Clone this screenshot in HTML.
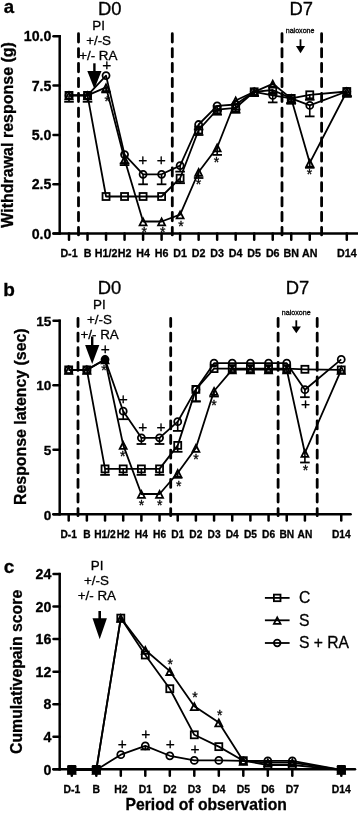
<!DOCTYPE html>
<html><head><meta charset="utf-8"><title>Figure</title>
<style>html,body{margin:0;padding:0;background:#fff}svg{display:block}text{stroke:#000;stroke-width:.3px}</style></head>
<body>
<svg width="358" height="813" viewBox="0 0 358 813" font-family='"Liberation Sans", sans-serif' fill="#000">
<rect width="358" height="813" fill="#fff"/>
<line x1="78.50" y1="33.70" x2="78.50" y2="234.90" stroke="#000" stroke-width="2.8" stroke-dasharray="8.3 6.6" stroke-linecap="round"/>
<line x1="172.30" y1="33.70" x2="172.30" y2="234.90" stroke="#000" stroke-width="2.8" stroke-dasharray="8.3 6.6" stroke-linecap="round"/>
<line x1="282.00" y1="33.70" x2="282.00" y2="234.90" stroke="#000" stroke-width="2.8" stroke-dasharray="8.3 6.6" stroke-linecap="round"/>
<line x1="321.60" y1="33.70" x2="321.60" y2="234.90" stroke="#000" stroke-width="2.8" stroke-dasharray="8.3 6.6" stroke-linecap="round"/>
<line x1="59.70" y1="35.00" x2="59.70" y2="234.65" stroke="#000" stroke-width="2.5" />
<line x1="53.50" y1="233.40" x2="358.50" y2="233.40" stroke="#000" stroke-width="2.5" stroke-linecap="round"/>
<line x1="53.50" y1="233.40" x2="59.70" y2="233.40" stroke="#000" stroke-width="2.5" stroke-linecap="round"/>
<text x="51.40" y="238.70" font-size="14.2" font-weight="bold" text-anchor="end" >0.0</text>
<line x1="53.50" y1="184.20" x2="59.70" y2="184.20" stroke="#000" stroke-width="2.5" stroke-linecap="round"/>
<text x="51.40" y="189.30" font-size="14.2" font-weight="bold" text-anchor="end" >2.5</text>
<line x1="53.50" y1="134.90" x2="59.70" y2="134.90" stroke="#000" stroke-width="2.5" stroke-linecap="round"/>
<text x="51.40" y="140.00" font-size="14.2" font-weight="bold" text-anchor="end" >5.0</text>
<line x1="53.50" y1="85.50" x2="59.70" y2="85.50" stroke="#000" stroke-width="2.5" stroke-linecap="round"/>
<text x="51.40" y="90.60" font-size="14.2" font-weight="bold" text-anchor="end" >7.5</text>
<line x1="53.50" y1="36.30" x2="59.70" y2="36.30" stroke="#000" stroke-width="2.5" stroke-linecap="round"/>
<text x="51.40" y="41.40" font-size="14.2" font-weight="bold" text-anchor="end" >10.0</text>
<line x1="69.00" y1="233.40" x2="69.00" y2="239.80" stroke="#000" stroke-width="2.5" stroke-linecap="round"/>
<text x="69.00" y="257.20" font-size="10.7" font-weight="bold" text-anchor="middle" >D-1</text>
<line x1="87.52" y1="233.40" x2="87.52" y2="239.80" stroke="#000" stroke-width="2.5" stroke-linecap="round"/>
<text x="87.52" y="257.20" font-size="10.7" font-weight="bold" text-anchor="middle" >B</text>
<line x1="106.04" y1="233.40" x2="106.04" y2="239.80" stroke="#000" stroke-width="2.5" stroke-linecap="round"/>
<text x="106.04" y="257.20" font-size="10.7" font-weight="bold" text-anchor="middle" >H1/2</text>
<line x1="124.56" y1="233.40" x2="124.56" y2="239.80" stroke="#000" stroke-width="2.5" stroke-linecap="round"/>
<text x="124.56" y="257.20" font-size="10.7" font-weight="bold" text-anchor="middle" >H2</text>
<line x1="143.08" y1="233.40" x2="143.08" y2="239.80" stroke="#000" stroke-width="2.5" stroke-linecap="round"/>
<text x="143.08" y="257.20" font-size="10.7" font-weight="bold" text-anchor="middle" >H4</text>
<line x1="161.60" y1="233.40" x2="161.60" y2="239.80" stroke="#000" stroke-width="2.5" stroke-linecap="round"/>
<text x="161.60" y="257.20" font-size="10.7" font-weight="bold" text-anchor="middle" >H6</text>
<line x1="180.12" y1="233.40" x2="180.12" y2="239.80" stroke="#000" stroke-width="2.5" stroke-linecap="round"/>
<text x="180.12" y="257.20" font-size="10.7" font-weight="bold" text-anchor="middle" >D1</text>
<line x1="198.64" y1="233.40" x2="198.64" y2="239.80" stroke="#000" stroke-width="2.5" stroke-linecap="round"/>
<text x="198.64" y="257.20" font-size="10.7" font-weight="bold" text-anchor="middle" >D2</text>
<line x1="217.16" y1="233.40" x2="217.16" y2="239.80" stroke="#000" stroke-width="2.5" stroke-linecap="round"/>
<text x="217.16" y="257.20" font-size="10.7" font-weight="bold" text-anchor="middle" >D3</text>
<line x1="235.68" y1="233.40" x2="235.68" y2="239.80" stroke="#000" stroke-width="2.5" stroke-linecap="round"/>
<text x="235.68" y="257.20" font-size="10.7" font-weight="bold" text-anchor="middle" >D4</text>
<line x1="254.20" y1="233.40" x2="254.20" y2="239.80" stroke="#000" stroke-width="2.5" stroke-linecap="round"/>
<text x="254.20" y="257.20" font-size="10.7" font-weight="bold" text-anchor="middle" >D5</text>
<line x1="272.72" y1="233.40" x2="272.72" y2="239.80" stroke="#000" stroke-width="2.5" stroke-linecap="round"/>
<text x="272.72" y="257.20" font-size="10.7" font-weight="bold" text-anchor="middle" >D6</text>
<line x1="291.24" y1="233.40" x2="291.24" y2="239.80" stroke="#000" stroke-width="2.5" stroke-linecap="round"/>
<text x="291.24" y="257.20" font-size="10.7" font-weight="bold" text-anchor="middle" >BN</text>
<line x1="309.76" y1="233.40" x2="309.76" y2="239.80" stroke="#000" stroke-width="2.5" stroke-linecap="round"/>
<text x="309.76" y="257.20" font-size="10.7" font-weight="bold" text-anchor="middle" >AN</text>
<line x1="346.80" y1="233.40" x2="346.80" y2="239.80" stroke="#000" stroke-width="2.5" stroke-linecap="round"/>
<text x="346.80" y="257.20" font-size="10.7" font-weight="bold" text-anchor="middle" >D14</text>
<path d="M69.00 95.40 L87.52 95.40 L106.04 196.50 L124.56 196.50 L143.08 196.50 L161.60 196.50 L180.12 178.20 L198.64 130.00 L217.16 109.70 L235.68 107.80 L254.20 91.80 L272.72 90.00 L291.24 98.40 L309.76 94.80 L346.80 91.50" fill="none" stroke="#000" stroke-width="1.8" stroke-linejoin="round"/>
<path d="M69.00 95.40 L87.52 95.40 L106.04 87.40 L124.56 159.30 L143.08 221.50 L161.60 221.50 L180.12 214.60 L198.64 172.00 L217.16 147.50 L235.68 100.50 L254.20 91.80 L272.72 83.80 L291.24 98.40 L309.76 162.80 L346.80 91.50" fill="none" stroke="#000" stroke-width="1.8" stroke-linejoin="round"/>
<path d="M69.00 95.40 L87.52 95.40 L106.04 75.60 L124.56 154.60 L143.08 174.30 L161.60 174.30 L180.12 165.60 L198.64 124.50 L217.16 105.80 L235.68 104.50 L254.20 91.80 L272.72 95.40 L291.24 98.40 L309.76 105.40 L346.80 91.50" fill="none" stroke="#000" stroke-width="1.8" stroke-linejoin="round"/>
<line x1="69.00" y1="95.40" x2="69.00" y2="101.80" stroke="#000" stroke-width="1.6" />
<line x1="64.20" y1="101.80" x2="73.80" y2="101.80" stroke="#000" stroke-width="1.8" />
<line x1="87.52" y1="95.40" x2="87.52" y2="101.80" stroke="#000" stroke-width="1.6" />
<line x1="82.72" y1="101.80" x2="92.32" y2="101.80" stroke="#000" stroke-width="1.8" />
<line x1="180.12" y1="178.20" x2="180.12" y2="183.20" stroke="#000" stroke-width="1.6" />
<line x1="175.32" y1="183.20" x2="184.92" y2="183.20" stroke="#000" stroke-width="1.8" />
<line x1="198.64" y1="130.00" x2="198.64" y2="135.00" stroke="#000" stroke-width="1.6" />
<line x1="193.84" y1="135.00" x2="203.44" y2="135.00" stroke="#000" stroke-width="1.8" />
<line x1="217.16" y1="109.70" x2="217.16" y2="114.70" stroke="#000" stroke-width="1.6" />
<line x1="212.36" y1="114.70" x2="221.96" y2="114.70" stroke="#000" stroke-width="1.8" />
<line x1="235.68" y1="107.80" x2="235.68" y2="112.80" stroke="#000" stroke-width="1.6" />
<line x1="230.88" y1="112.80" x2="240.48" y2="112.80" stroke="#000" stroke-width="1.8" />
<line x1="254.20" y1="91.80" x2="254.20" y2="95.80" stroke="#000" stroke-width="1.6" />
<line x1="249.40" y1="95.80" x2="259.00" y2="95.80" stroke="#000" stroke-width="1.8" />
<line x1="272.72" y1="90.00" x2="272.72" y2="94.00" stroke="#000" stroke-width="1.6" />
<line x1="267.92" y1="94.00" x2="277.52" y2="94.00" stroke="#000" stroke-width="1.8" />
<line x1="291.24" y1="98.40" x2="291.24" y2="103.40" stroke="#000" stroke-width="1.6" />
<line x1="286.44" y1="103.40" x2="296.04" y2="103.40" stroke="#000" stroke-width="1.8" />
<line x1="309.76" y1="94.80" x2="309.76" y2="99.80" stroke="#000" stroke-width="1.6" />
<line x1="304.96" y1="99.80" x2="314.56" y2="99.80" stroke="#000" stroke-width="1.8" />
<line x1="346.80" y1="91.50" x2="346.80" y2="96.50" stroke="#000" stroke-width="1.6" />
<line x1="342.00" y1="96.50" x2="351.60" y2="96.50" stroke="#000" stroke-width="1.8" />
<line x1="106.04" y1="87.40" x2="106.04" y2="92.40" stroke="#000" stroke-width="1.6" />
<line x1="101.24" y1="92.40" x2="110.84" y2="92.40" stroke="#000" stroke-width="1.8" />
<line x1="124.56" y1="159.30" x2="124.56" y2="165.10" stroke="#000" stroke-width="1.6" />
<line x1="119.76" y1="165.10" x2="129.36" y2="165.10" stroke="#000" stroke-width="1.8" />
<line x1="198.64" y1="172.00" x2="198.64" y2="178.00" stroke="#000" stroke-width="1.6" />
<line x1="193.84" y1="178.00" x2="203.44" y2="178.00" stroke="#000" stroke-width="1.8" />
<line x1="217.16" y1="147.50" x2="217.16" y2="154.90" stroke="#000" stroke-width="1.6" />
<line x1="212.36" y1="154.90" x2="221.96" y2="154.90" stroke="#000" stroke-width="1.8" />
<line x1="254.20" y1="91.80" x2="254.20" y2="95.80" stroke="#000" stroke-width="1.6" />
<line x1="249.40" y1="95.80" x2="259.00" y2="95.80" stroke="#000" stroke-width="1.8" />
<line x1="291.24" y1="98.40" x2="291.24" y2="103.40" stroke="#000" stroke-width="1.6" />
<line x1="286.44" y1="103.40" x2="296.04" y2="103.40" stroke="#000" stroke-width="1.8" />
<line x1="309.76" y1="162.80" x2="309.76" y2="167.80" stroke="#000" stroke-width="1.6" />
<line x1="304.96" y1="167.80" x2="314.56" y2="167.80" stroke="#000" stroke-width="1.8" />
<line x1="346.80" y1="91.50" x2="346.80" y2="96.50" stroke="#000" stroke-width="1.6" />
<line x1="342.00" y1="96.50" x2="351.60" y2="96.50" stroke="#000" stroke-width="1.8" />
<line x1="124.56" y1="154.60" x2="124.56" y2="163.40" stroke="#000" stroke-width="1.6" />
<line x1="119.76" y1="163.40" x2="129.36" y2="163.40" stroke="#000" stroke-width="1.8" />
<line x1="143.08" y1="174.30" x2="143.08" y2="184.30" stroke="#000" stroke-width="1.6" />
<line x1="138.28" y1="184.30" x2="147.88" y2="184.30" stroke="#000" stroke-width="1.8" />
<line x1="161.60" y1="174.30" x2="161.60" y2="184.30" stroke="#000" stroke-width="1.6" />
<line x1="156.80" y1="184.30" x2="166.40" y2="184.30" stroke="#000" stroke-width="1.8" />
<line x1="180.12" y1="165.60" x2="180.12" y2="171.60" stroke="#000" stroke-width="1.6" />
<line x1="175.32" y1="171.60" x2="184.92" y2="171.60" stroke="#000" stroke-width="1.8" />
<line x1="198.64" y1="124.50" x2="198.64" y2="129.50" stroke="#000" stroke-width="1.6" />
<line x1="193.84" y1="129.50" x2="203.44" y2="129.50" stroke="#000" stroke-width="1.8" />
<line x1="217.16" y1="105.80" x2="217.16" y2="110.80" stroke="#000" stroke-width="1.6" />
<line x1="212.36" y1="110.80" x2="221.96" y2="110.80" stroke="#000" stroke-width="1.8" />
<line x1="235.68" y1="104.50" x2="235.68" y2="109.50" stroke="#000" stroke-width="1.6" />
<line x1="230.88" y1="109.50" x2="240.48" y2="109.50" stroke="#000" stroke-width="1.8" />
<line x1="254.20" y1="91.80" x2="254.20" y2="95.80" stroke="#000" stroke-width="1.6" />
<line x1="249.40" y1="95.80" x2="259.00" y2="95.80" stroke="#000" stroke-width="1.8" />
<line x1="272.72" y1="95.40" x2="272.72" y2="102.40" stroke="#000" stroke-width="1.6" />
<line x1="267.92" y1="102.40" x2="277.52" y2="102.40" stroke="#000" stroke-width="1.8" />
<line x1="291.24" y1="98.40" x2="291.24" y2="103.40" stroke="#000" stroke-width="1.6" />
<line x1="286.44" y1="103.40" x2="296.04" y2="103.40" stroke="#000" stroke-width="1.8" />
<line x1="309.76" y1="105.40" x2="309.76" y2="116.40" stroke="#000" stroke-width="1.6" />
<line x1="304.96" y1="116.40" x2="314.56" y2="116.40" stroke="#000" stroke-width="1.8" />
<line x1="346.80" y1="91.50" x2="346.80" y2="96.50" stroke="#000" stroke-width="1.6" />
<line x1="342.00" y1="96.50" x2="351.60" y2="96.50" stroke="#000" stroke-width="1.8" />
<rect x="65.50" y="91.90" width="7.00" height="7.00" fill="none" stroke="#000" stroke-width="1.8"/>
<rect x="84.02" y="91.90" width="7.00" height="7.00" fill="none" stroke="#000" stroke-width="1.8"/>
<rect x="102.54" y="193.00" width="7.00" height="7.00" fill="none" stroke="#000" stroke-width="1.8"/>
<rect x="121.06" y="193.00" width="7.00" height="7.00" fill="none" stroke="#000" stroke-width="1.8"/>
<rect x="139.58" y="193.00" width="7.00" height="7.00" fill="none" stroke="#000" stroke-width="1.8"/>
<rect x="158.10" y="193.00" width="7.00" height="7.00" fill="none" stroke="#000" stroke-width="1.8"/>
<rect x="176.62" y="174.70" width="7.00" height="7.00" fill="none" stroke="#000" stroke-width="1.8"/>
<rect x="195.14" y="126.50" width="7.00" height="7.00" fill="none" stroke="#000" stroke-width="1.8"/>
<rect x="213.66" y="106.20" width="7.00" height="7.00" fill="none" stroke="#000" stroke-width="1.8"/>
<rect x="232.18" y="104.30" width="7.00" height="7.00" fill="none" stroke="#000" stroke-width="1.8"/>
<rect x="250.70" y="88.30" width="7.00" height="7.00" fill="none" stroke="#000" stroke-width="1.8"/>
<rect x="269.22" y="86.50" width="7.00" height="7.00" fill="none" stroke="#000" stroke-width="1.8"/>
<rect x="287.74" y="94.90" width="7.00" height="7.00" fill="none" stroke="#000" stroke-width="1.8"/>
<rect x="306.26" y="91.30" width="7.00" height="7.00" fill="none" stroke="#000" stroke-width="1.8"/>
<rect x="343.30" y="88.00" width="7.00" height="7.00" fill="none" stroke="#000" stroke-width="1.8"/>
<path d="M69.00 92.36 L72.50 99.25 L65.50 99.25 Z" fill="none" stroke="#000" stroke-width="1.8" stroke-linejoin="miter"/>
<path d="M87.52 92.36 L91.02 99.25 L84.02 99.25 Z" fill="none" stroke="#000" stroke-width="1.8" stroke-linejoin="miter"/>
<path d="M106.04 84.36 L109.54 91.25 L102.54 91.25 Z" fill="none" stroke="#000" stroke-width="1.8" stroke-linejoin="miter"/>
<path d="M124.56 156.26 L128.06 163.15 L121.06 163.15 Z" fill="none" stroke="#000" stroke-width="1.8" stroke-linejoin="miter"/>
<path d="M143.08 218.46 L146.58 225.35 L139.58 225.35 Z" fill="none" stroke="#000" stroke-width="1.8" stroke-linejoin="miter"/>
<path d="M161.60 218.46 L165.10 225.35 L158.10 225.35 Z" fill="none" stroke="#000" stroke-width="1.8" stroke-linejoin="miter"/>
<path d="M180.12 211.56 L183.62 218.45 L176.62 218.45 Z" fill="none" stroke="#000" stroke-width="1.8" stroke-linejoin="miter"/>
<path d="M198.64 168.96 L202.14 175.85 L195.14 175.85 Z" fill="none" stroke="#000" stroke-width="1.8" stroke-linejoin="miter"/>
<path d="M217.16 144.46 L220.66 151.35 L213.66 151.35 Z" fill="none" stroke="#000" stroke-width="1.8" stroke-linejoin="miter"/>
<path d="M235.68 97.45 L239.18 104.35 L232.18 104.35 Z" fill="none" stroke="#000" stroke-width="1.8" stroke-linejoin="miter"/>
<path d="M254.20 88.75 L257.70 95.65 L250.70 95.65 Z" fill="none" stroke="#000" stroke-width="1.8" stroke-linejoin="miter"/>
<path d="M272.72 80.75 L276.22 87.65 L269.22 87.65 Z" fill="none" stroke="#000" stroke-width="1.8" stroke-linejoin="miter"/>
<path d="M291.24 95.36 L294.74 102.25 L287.74 102.25 Z" fill="none" stroke="#000" stroke-width="1.8" stroke-linejoin="miter"/>
<path d="M309.76 159.76 L313.26 166.65 L306.26 166.65 Z" fill="none" stroke="#000" stroke-width="1.8" stroke-linejoin="miter"/>
<path d="M346.80 88.45 L350.30 95.35 L343.30 95.35 Z" fill="none" stroke="#000" stroke-width="1.8" stroke-linejoin="miter"/>
<circle cx="69.00" cy="95.40" r="3.50" fill="none" stroke="#000" stroke-width="1.8"/>
<circle cx="87.52" cy="95.40" r="3.50" fill="none" stroke="#000" stroke-width="1.8"/>
<circle cx="106.04" cy="75.60" r="3.50" fill="none" stroke="#000" stroke-width="1.8"/>
<circle cx="124.56" cy="154.60" r="3.50" fill="none" stroke="#000" stroke-width="1.8"/>
<circle cx="143.08" cy="174.30" r="3.50" fill="none" stroke="#000" stroke-width="1.8"/>
<circle cx="161.60" cy="174.30" r="3.50" fill="none" stroke="#000" stroke-width="1.8"/>
<circle cx="180.12" cy="165.60" r="3.50" fill="none" stroke="#000" stroke-width="1.8"/>
<circle cx="198.64" cy="124.50" r="3.50" fill="none" stroke="#000" stroke-width="1.8"/>
<circle cx="217.16" cy="105.80" r="3.50" fill="none" stroke="#000" stroke-width="1.8"/>
<circle cx="235.68" cy="104.50" r="3.50" fill="none" stroke="#000" stroke-width="1.8"/>
<circle cx="254.20" cy="91.80" r="3.50" fill="none" stroke="#000" stroke-width="1.8"/>
<circle cx="272.72" cy="95.40" r="3.50" fill="none" stroke="#000" stroke-width="1.8"/>
<circle cx="291.24" cy="98.40" r="3.50" fill="none" stroke="#000" stroke-width="1.8"/>
<circle cx="309.76" cy="105.40" r="3.50" fill="none" stroke="#000" stroke-width="1.8"/>
<circle cx="346.80" cy="91.50" r="3.50" fill="none" stroke="#000" stroke-width="1.8"/>
<text x="3.70" y="13.20" font-size="18.6" font-weight="bold" text-anchor="start" >a</text>
<text x="109.70" y="14.70" font-size="18.4" text-anchor="middle" >D0</text>
<text x="98.60" y="29.70" font-size="13.4" text-anchor="middle" >PI</text>
<text x="98.60" y="44.90" font-size="13.4" text-anchor="middle" >+/-S</text>
<text x="98.30" y="60.00" font-size="13.4" text-anchor="middle" >+/- RA</text>
<text x="301.30" y="14.70" font-size="18.4" text-anchor="middle" >D7</text>
<text x="300.10" y="32.60" font-size="7.1" text-anchor="middle" >naloxone</text>
<line x1="94.40" y1="63.30" x2="94.40" y2="72.00" stroke="#000" stroke-width="2.4" />
<path d="M87.30 71.00 L101.50 71.00 L94.40 89.00 Z" fill="#000"/>
<line x1="300.50" y1="39.30" x2="300.50" y2="47.00" stroke="#000" stroke-width="1.8" />
<path d="M295.90 46.00 L305.10 46.00 L300.50 53.20 Z" fill="#000"/>
<text transform="translate(13.2,134.9) rotate(-90)" font-size="16" font-weight="bold" text-anchor="middle">Withdrawal response (g)</text>
<text x="106.80" y="69.65" font-size="15.5" text-anchor="middle" >+</text>
<text x="142.70" y="165.15" font-size="15.5" text-anchor="middle" >+</text>
<text x="161.20" y="165.15" font-size="15.5" text-anchor="middle" >+</text>
<text x="107.20" y="106.08" font-size="14" text-anchor="middle" >*</text>
<text x="144.20" y="237.18" font-size="14" text-anchor="middle" >*</text>
<text x="162.70" y="237.18" font-size="14" text-anchor="middle" >*</text>
<text x="181.10" y="230.78" font-size="14" text-anchor="middle" >*</text>
<text x="198.50" y="189.28" font-size="14" text-anchor="middle" >*</text>
<text x="216.60" y="166.68" font-size="14" text-anchor="middle" >*</text>
<text x="309.50" y="178.58" font-size="14" text-anchor="middle" >*</text>
<line x1="78.00" y1="318.40" x2="78.00" y2="515.70" stroke="#000" stroke-width="2.8" stroke-dasharray="8.1 6.53" stroke-linecap="round"/>
<line x1="170.70" y1="318.40" x2="170.70" y2="515.70" stroke="#000" stroke-width="2.8" stroke-dasharray="8.1 6.53" stroke-linecap="round"/>
<line x1="278.10" y1="318.40" x2="278.10" y2="515.70" stroke="#000" stroke-width="2.8" stroke-dasharray="8.1 6.53" stroke-linecap="round"/>
<line x1="317.20" y1="318.40" x2="317.20" y2="515.70" stroke="#000" stroke-width="2.8" stroke-dasharray="8.1 6.53" stroke-linecap="round"/>
<line x1="59.70" y1="319.50" x2="59.70" y2="515.45" stroke="#000" stroke-width="2.5" />
<line x1="53.50" y1="514.20" x2="350.60" y2="514.20" stroke="#000" stroke-width="2.5" stroke-linecap="round"/>
<line x1="53.50" y1="514.20" x2="59.70" y2="514.20" stroke="#000" stroke-width="2.5" stroke-linecap="round"/>
<text x="51.40" y="520.20" font-size="13.6" font-weight="bold" text-anchor="end" >0</text>
<line x1="53.50" y1="449.70" x2="59.70" y2="449.70" stroke="#000" stroke-width="2.5" stroke-linecap="round"/>
<text x="51.40" y="454.80" font-size="13.6" font-weight="bold" text-anchor="end" >5</text>
<line x1="53.50" y1="385.20" x2="59.70" y2="385.20" stroke="#000" stroke-width="2.5" stroke-linecap="round"/>
<text x="51.40" y="390.30" font-size="13.6" font-weight="bold" text-anchor="end" >10</text>
<line x1="53.50" y1="320.70" x2="59.70" y2="320.70" stroke="#000" stroke-width="2.5" stroke-linecap="round"/>
<text x="51.40" y="325.80" font-size="13.6" font-weight="bold" text-anchor="end" >15</text>
<line x1="68.70" y1="514.20" x2="68.70" y2="520.40" stroke="#000" stroke-width="2.5" stroke-linecap="round"/>
<text x="68.70" y="537.90" font-size="10.2" font-weight="bold" text-anchor="middle" >D-1</text>
<line x1="86.87" y1="514.20" x2="86.87" y2="520.40" stroke="#000" stroke-width="2.5" stroke-linecap="round"/>
<text x="86.87" y="537.90" font-size="10.2" font-weight="bold" text-anchor="middle" >B</text>
<line x1="105.04" y1="514.20" x2="105.04" y2="520.40" stroke="#000" stroke-width="2.5" stroke-linecap="round"/>
<text x="105.04" y="537.90" font-size="10.2" font-weight="bold" text-anchor="middle" >H1/2</text>
<line x1="123.21" y1="514.20" x2="123.21" y2="520.40" stroke="#000" stroke-width="2.5" stroke-linecap="round"/>
<text x="123.21" y="537.90" font-size="10.2" font-weight="bold" text-anchor="middle" >H2</text>
<line x1="141.38" y1="514.20" x2="141.38" y2="520.40" stroke="#000" stroke-width="2.5" stroke-linecap="round"/>
<text x="141.38" y="537.90" font-size="10.2" font-weight="bold" text-anchor="middle" >H4</text>
<line x1="159.55" y1="514.20" x2="159.55" y2="520.40" stroke="#000" stroke-width="2.5" stroke-linecap="round"/>
<text x="159.55" y="537.90" font-size="10.2" font-weight="bold" text-anchor="middle" >H6</text>
<line x1="177.72" y1="514.20" x2="177.72" y2="520.40" stroke="#000" stroke-width="2.5" stroke-linecap="round"/>
<text x="177.72" y="537.90" font-size="10.2" font-weight="bold" text-anchor="middle" >D1</text>
<line x1="195.89" y1="514.20" x2="195.89" y2="520.40" stroke="#000" stroke-width="2.5" stroke-linecap="round"/>
<text x="195.89" y="537.90" font-size="10.2" font-weight="bold" text-anchor="middle" >D2</text>
<line x1="214.06" y1="514.20" x2="214.06" y2="520.40" stroke="#000" stroke-width="2.5" stroke-linecap="round"/>
<text x="214.06" y="537.90" font-size="10.2" font-weight="bold" text-anchor="middle" >D3</text>
<line x1="232.23" y1="514.20" x2="232.23" y2="520.40" stroke="#000" stroke-width="2.5" stroke-linecap="round"/>
<text x="232.23" y="537.90" font-size="10.2" font-weight="bold" text-anchor="middle" >D4</text>
<line x1="250.40" y1="514.20" x2="250.40" y2="520.40" stroke="#000" stroke-width="2.5" stroke-linecap="round"/>
<text x="250.40" y="537.90" font-size="10.2" font-weight="bold" text-anchor="middle" >D5</text>
<line x1="268.57" y1="514.20" x2="268.57" y2="520.40" stroke="#000" stroke-width="2.5" stroke-linecap="round"/>
<text x="268.57" y="537.90" font-size="10.2" font-weight="bold" text-anchor="middle" >D6</text>
<line x1="286.74" y1="514.20" x2="286.74" y2="520.40" stroke="#000" stroke-width="2.5" stroke-linecap="round"/>
<text x="286.74" y="537.90" font-size="10.2" font-weight="bold" text-anchor="middle" >BN</text>
<line x1="304.91" y1="514.20" x2="304.91" y2="520.40" stroke="#000" stroke-width="2.5" stroke-linecap="round"/>
<text x="304.91" y="537.90" font-size="10.2" font-weight="bold" text-anchor="middle" >AN</text>
<line x1="341.25" y1="514.20" x2="341.25" y2="520.40" stroke="#000" stroke-width="2.5" stroke-linecap="round"/>
<text x="341.25" y="537.90" font-size="10.2" font-weight="bold" text-anchor="middle" >D14</text>
<path d="M68.70 369.90 L86.87 369.90 L105.04 468.90 L123.21 468.90 L141.38 468.90 L159.55 468.90 L177.72 445.40 L195.89 389.40 L214.06 368.60 L232.23 368.60 L250.40 368.60 L268.57 368.60 L286.74 368.60 L304.91 369.30 L341.25 369.90" fill="none" stroke="#000" stroke-width="1.8" stroke-linejoin="round"/>
<path d="M68.70 369.90 L86.87 369.90 L105.04 359.50 L123.21 445.10 L141.38 494.00 L159.55 494.00 L177.72 473.00 L195.89 448.00 L214.06 391.00 L232.23 369.60 L250.40 369.60 L268.57 369.60 L286.74 369.60 L304.91 453.00 L341.25 369.90" fill="none" stroke="#000" stroke-width="1.8" stroke-linejoin="round"/>
<path d="M68.70 369.90 L86.87 369.90 L105.04 359.50 L123.21 411.20 L141.38 437.80 L159.55 437.80 L177.72 421.70 L195.89 389.40 L214.06 363.20 L232.23 363.20 L250.40 363.20 L268.57 363.20 L286.74 363.20 L304.91 389.70 L341.25 359.40" fill="none" stroke="#000" stroke-width="1.8" stroke-linejoin="round"/>
<line x1="105.04" y1="468.90" x2="105.04" y2="474.90" stroke="#000" stroke-width="1.6" />
<line x1="100.24" y1="474.90" x2="109.84" y2="474.90" stroke="#000" stroke-width="1.8" />
<line x1="123.21" y1="468.90" x2="123.21" y2="474.90" stroke="#000" stroke-width="1.6" />
<line x1="118.41" y1="474.90" x2="128.01" y2="474.90" stroke="#000" stroke-width="1.8" />
<line x1="141.38" y1="468.90" x2="141.38" y2="474.90" stroke="#000" stroke-width="1.6" />
<line x1="136.58" y1="474.90" x2="146.18" y2="474.90" stroke="#000" stroke-width="1.8" />
<line x1="159.55" y1="468.90" x2="159.55" y2="474.90" stroke="#000" stroke-width="1.6" />
<line x1="154.75" y1="474.90" x2="164.35" y2="474.90" stroke="#000" stroke-width="1.8" />
<line x1="177.72" y1="445.40" x2="177.72" y2="451.80" stroke="#000" stroke-width="1.6" />
<line x1="172.92" y1="451.80" x2="182.52" y2="451.80" stroke="#000" stroke-width="1.8" />
<line x1="195.89" y1="389.40" x2="195.89" y2="401.40" stroke="#000" stroke-width="1.6" />
<line x1="191.09" y1="401.40" x2="200.69" y2="401.40" stroke="#000" stroke-width="1.8" />
<line x1="177.72" y1="473.00" x2="177.72" y2="477.80" stroke="#000" stroke-width="1.6" />
<line x1="172.92" y1="477.80" x2="182.52" y2="477.80" stroke="#000" stroke-width="1.8" />
<line x1="214.06" y1="391.00" x2="214.06" y2="396.50" stroke="#000" stroke-width="1.6" />
<line x1="209.26" y1="396.50" x2="218.86" y2="396.50" stroke="#000" stroke-width="1.8" />
<line x1="304.91" y1="453.00" x2="304.91" y2="462.50" stroke="#000" stroke-width="1.6" />
<line x1="300.11" y1="462.50" x2="309.71" y2="462.50" stroke="#000" stroke-width="1.8" />
<line x1="123.21" y1="411.20" x2="123.21" y2="419.20" stroke="#000" stroke-width="1.6" />
<line x1="118.41" y1="419.20" x2="128.01" y2="419.20" stroke="#000" stroke-width="1.8" />
<line x1="141.38" y1="437.80" x2="141.38" y2="444.00" stroke="#000" stroke-width="1.6" />
<line x1="136.58" y1="444.00" x2="146.18" y2="444.00" stroke="#000" stroke-width="1.8" />
<line x1="159.55" y1="437.80" x2="159.55" y2="444.00" stroke="#000" stroke-width="1.6" />
<line x1="154.75" y1="444.00" x2="164.35" y2="444.00" stroke="#000" stroke-width="1.8" />
<line x1="177.72" y1="421.70" x2="177.72" y2="430.90" stroke="#000" stroke-width="1.6" />
<line x1="172.92" y1="430.90" x2="182.52" y2="430.90" stroke="#000" stroke-width="1.8" />
<line x1="195.89" y1="389.40" x2="195.89" y2="401.40" stroke="#000" stroke-width="1.6" />
<line x1="191.09" y1="401.40" x2="200.69" y2="401.40" stroke="#000" stroke-width="1.8" />
<line x1="304.91" y1="389.70" x2="304.91" y2="397.20" stroke="#000" stroke-width="1.6" />
<line x1="300.11" y1="397.20" x2="309.71" y2="397.20" stroke="#000" stroke-width="1.8" />
<rect x="65.20" y="366.40" width="7.00" height="7.00" fill="none" stroke="#000" stroke-width="1.8"/>
<rect x="83.37" y="366.40" width="7.00" height="7.00" fill="none" stroke="#000" stroke-width="1.8"/>
<rect x="101.54" y="465.40" width="7.00" height="7.00" fill="none" stroke="#000" stroke-width="1.8"/>
<rect x="119.71" y="465.40" width="7.00" height="7.00" fill="none" stroke="#000" stroke-width="1.8"/>
<rect x="137.88" y="465.40" width="7.00" height="7.00" fill="none" stroke="#000" stroke-width="1.8"/>
<rect x="156.05" y="465.40" width="7.00" height="7.00" fill="none" stroke="#000" stroke-width="1.8"/>
<rect x="174.22" y="441.90" width="7.00" height="7.00" fill="none" stroke="#000" stroke-width="1.8"/>
<rect x="192.39" y="385.90" width="7.00" height="7.00" fill="none" stroke="#000" stroke-width="1.8"/>
<rect x="210.56" y="365.10" width="7.00" height="7.00" fill="none" stroke="#000" stroke-width="1.8"/>
<rect x="228.73" y="365.10" width="7.00" height="7.00" fill="none" stroke="#000" stroke-width="1.8"/>
<rect x="246.90" y="365.10" width="7.00" height="7.00" fill="none" stroke="#000" stroke-width="1.8"/>
<rect x="265.07" y="365.10" width="7.00" height="7.00" fill="none" stroke="#000" stroke-width="1.8"/>
<rect x="283.24" y="365.10" width="7.00" height="7.00" fill="none" stroke="#000" stroke-width="1.8"/>
<rect x="301.41" y="365.80" width="7.00" height="7.00" fill="none" stroke="#000" stroke-width="1.8"/>
<rect x="337.75" y="366.40" width="7.00" height="7.00" fill="none" stroke="#000" stroke-width="1.8"/>
<path d="M68.70 366.85 L72.20 373.75 L65.20 373.75 Z" fill="none" stroke="#000" stroke-width="1.8" stroke-linejoin="miter"/>
<path d="M86.87 366.85 L90.37 373.75 L83.37 373.75 Z" fill="none" stroke="#000" stroke-width="1.8" stroke-linejoin="miter"/>
<path d="M105.04 356.45 L108.54 363.35 L101.54 363.35 Z" fill="none" stroke="#000" stroke-width="1.8" stroke-linejoin="miter"/>
<path d="M123.21 442.06 L126.71 448.95 L119.71 448.95 Z" fill="none" stroke="#000" stroke-width="1.8" stroke-linejoin="miter"/>
<path d="M141.38 490.95 L144.88 497.85 L137.88 497.85 Z" fill="none" stroke="#000" stroke-width="1.8" stroke-linejoin="miter"/>
<path d="M159.55 490.95 L163.05 497.85 L156.05 497.85 Z" fill="none" stroke="#000" stroke-width="1.8" stroke-linejoin="miter"/>
<path d="M177.72 469.95 L181.22 476.85 L174.22 476.85 Z" fill="none" stroke="#000" stroke-width="1.8" stroke-linejoin="miter"/>
<path d="M195.89 444.95 L199.39 451.85 L192.39 451.85 Z" fill="none" stroke="#000" stroke-width="1.8" stroke-linejoin="miter"/>
<path d="M214.06 387.95 L217.56 394.85 L210.56 394.85 Z" fill="none" stroke="#000" stroke-width="1.8" stroke-linejoin="miter"/>
<path d="M232.23 366.56 L235.73 373.45 L228.73 373.45 Z" fill="none" stroke="#000" stroke-width="1.8" stroke-linejoin="miter"/>
<path d="M250.40 366.56 L253.90 373.45 L246.90 373.45 Z" fill="none" stroke="#000" stroke-width="1.8" stroke-linejoin="miter"/>
<path d="M268.57 366.56 L272.07 373.45 L265.07 373.45 Z" fill="none" stroke="#000" stroke-width="1.8" stroke-linejoin="miter"/>
<path d="M286.74 366.56 L290.24 373.45 L283.24 373.45 Z" fill="none" stroke="#000" stroke-width="1.8" stroke-linejoin="miter"/>
<path d="M304.91 449.95 L308.41 456.85 L301.41 456.85 Z" fill="none" stroke="#000" stroke-width="1.8" stroke-linejoin="miter"/>
<path d="M341.25 366.85 L344.75 373.75 L337.75 373.75 Z" fill="none" stroke="#000" stroke-width="1.8" stroke-linejoin="miter"/>
<circle cx="68.70" cy="369.90" r="3.50" fill="none" stroke="#000" stroke-width="1.8"/>
<circle cx="86.87" cy="369.90" r="3.50" fill="none" stroke="#000" stroke-width="1.8"/>
<circle cx="105.04" cy="359.50" r="3.50" fill="#000" stroke="#000" stroke-width="1.8"/>
<circle cx="123.21" cy="411.20" r="3.50" fill="none" stroke="#000" stroke-width="1.8"/>
<circle cx="141.38" cy="437.80" r="3.50" fill="none" stroke="#000" stroke-width="1.8"/>
<circle cx="159.55" cy="437.80" r="3.50" fill="none" stroke="#000" stroke-width="1.8"/>
<circle cx="177.72" cy="421.70" r="3.50" fill="none" stroke="#000" stroke-width="1.8"/>
<circle cx="195.89" cy="389.40" r="3.50" fill="none" stroke="#000" stroke-width="1.8"/>
<circle cx="214.06" cy="363.20" r="3.50" fill="none" stroke="#000" stroke-width="1.8"/>
<circle cx="232.23" cy="363.20" r="3.50" fill="none" stroke="#000" stroke-width="1.8"/>
<circle cx="250.40" cy="363.20" r="3.50" fill="none" stroke="#000" stroke-width="1.8"/>
<circle cx="268.57" cy="363.20" r="3.50" fill="none" stroke="#000" stroke-width="1.8"/>
<circle cx="286.74" cy="363.20" r="3.50" fill="none" stroke="#000" stroke-width="1.8"/>
<circle cx="304.91" cy="389.70" r="3.50" fill="none" stroke="#000" stroke-width="1.8"/>
<circle cx="341.25" cy="359.40" r="3.50" fill="none" stroke="#000" stroke-width="1.8"/>
<text x="3.20" y="296.00" font-size="19" font-weight="bold" text-anchor="start" >b</text>
<text x="109.50" y="293.80" font-size="18.4" text-anchor="middle" >D0</text>
<text x="99.40" y="309.20" font-size="13.4" text-anchor="middle" >PI</text>
<text x="99.50" y="324.30" font-size="13.4" text-anchor="middle" >+/-S</text>
<text x="99.60" y="339.30" font-size="13.4" text-anchor="middle" >+/- RA</text>
<text x="297.60" y="293.80" font-size="18.4" text-anchor="middle" >D7</text>
<text x="296.20" y="314.70" font-size="7.1" text-anchor="middle" >naloxone</text>
<line x1="92.20" y1="336.50" x2="92.20" y2="346.00" stroke="#000" stroke-width="2.4" />
<path d="M85.10 345.00 L99.30 345.00 L92.20 364.00 Z" fill="#000"/>
<line x1="296.30" y1="320.30" x2="296.30" y2="327.50" stroke="#000" stroke-width="1.8" />
<path d="M291.70 326.50 L300.90 326.50 L296.30 333.30 Z" fill="#000"/>
<text transform="translate(25.5,416.7) rotate(-90)" font-size="15.9" font-weight="bold" text-anchor="middle">Response latency (sec)</text>
<text x="105.30" y="353.65" font-size="15.5" text-anchor="middle" >+</text>
<text x="123.30" y="404.15" font-size="15.5" text-anchor="middle" >+</text>
<text x="142.80" y="432.45" font-size="15.5" text-anchor="middle" >+</text>
<text x="161.00" y="432.45" font-size="15.5" text-anchor="middle" >+</text>
<text x="305.50" y="409.15" font-size="15.5" text-anchor="middle" >+</text>
<text x="104.00" y="375.28" font-size="14" text-anchor="middle" >*</text>
<text x="122.70" y="461.28" font-size="14" text-anchor="middle" >*</text>
<text x="141.50" y="509.68" font-size="14" text-anchor="middle" >*</text>
<text x="159.70" y="509.68" font-size="14" text-anchor="middle" >*</text>
<text x="178.80" y="490.58" font-size="14" text-anchor="middle" >*</text>
<text x="196.10" y="463.58" font-size="14" text-anchor="middle" >*</text>
<text x="214.00" y="410.28" font-size="14" text-anchor="middle" >*</text>
<text x="305.50" y="475.28" font-size="14" text-anchor="middle" >*</text>
<line x1="59.70" y1="572.80" x2="59.70" y2="770.55" stroke="#000" stroke-width="2.5" />
<line x1="53.50" y1="769.30" x2="355.00" y2="769.30" stroke="#000" stroke-width="2.5" stroke-linecap="round"/>
<line x1="53.50" y1="769.30" x2="59.70" y2="769.30" stroke="#000" stroke-width="2.5" stroke-linecap="round"/>
<text x="51.40" y="775.10" font-size="14.2" font-weight="bold" text-anchor="end" >0</text>
<line x1="53.50" y1="736.75" x2="59.70" y2="736.75" stroke="#000" stroke-width="2.5" stroke-linecap="round"/>
<text x="51.40" y="741.85" font-size="14.2" font-weight="bold" text-anchor="end" >4</text>
<line x1="53.50" y1="704.20" x2="59.70" y2="704.20" stroke="#000" stroke-width="2.5" stroke-linecap="round"/>
<text x="51.40" y="709.30" font-size="14.2" font-weight="bold" text-anchor="end" >8</text>
<line x1="53.50" y1="671.65" x2="59.70" y2="671.65" stroke="#000" stroke-width="2.5" stroke-linecap="round"/>
<text x="51.40" y="676.75" font-size="14.2" font-weight="bold" text-anchor="end" >12</text>
<line x1="53.50" y1="639.10" x2="59.70" y2="639.10" stroke="#000" stroke-width="2.5" stroke-linecap="round"/>
<text x="51.40" y="644.20" font-size="14.2" font-weight="bold" text-anchor="end" >16</text>
<line x1="53.50" y1="606.55" x2="59.70" y2="606.55" stroke="#000" stroke-width="2.5" stroke-linecap="round"/>
<text x="51.40" y="611.65" font-size="14.2" font-weight="bold" text-anchor="end" >20</text>
<line x1="53.50" y1="574.00" x2="59.70" y2="574.00" stroke="#000" stroke-width="2.5" stroke-linecap="round"/>
<text x="51.40" y="579.10" font-size="14.2" font-weight="bold" text-anchor="end" >24</text>
<line x1="71.80" y1="769.30" x2="71.80" y2="775.80" stroke="#000" stroke-width="2.5" stroke-linecap="round"/>
<text x="71.80" y="792.90" font-size="10.4" font-weight="bold" text-anchor="middle" >D-1</text>
<line x1="96.30" y1="769.30" x2="96.30" y2="775.80" stroke="#000" stroke-width="2.5" stroke-linecap="round"/>
<text x="96.30" y="792.90" font-size="10.4" font-weight="bold" text-anchor="middle" >B</text>
<line x1="120.80" y1="769.30" x2="120.80" y2="775.80" stroke="#000" stroke-width="2.5" stroke-linecap="round"/>
<text x="120.80" y="792.90" font-size="10.4" font-weight="bold" text-anchor="middle" >H2</text>
<line x1="145.30" y1="769.30" x2="145.30" y2="775.80" stroke="#000" stroke-width="2.5" stroke-linecap="round"/>
<text x="145.30" y="792.90" font-size="10.4" font-weight="bold" text-anchor="middle" >D1</text>
<line x1="169.80" y1="769.30" x2="169.80" y2="775.80" stroke="#000" stroke-width="2.5" stroke-linecap="round"/>
<text x="169.80" y="792.90" font-size="10.4" font-weight="bold" text-anchor="middle" >D2</text>
<line x1="194.30" y1="769.30" x2="194.30" y2="775.80" stroke="#000" stroke-width="2.5" stroke-linecap="round"/>
<text x="194.30" y="792.90" font-size="10.4" font-weight="bold" text-anchor="middle" >D3</text>
<line x1="218.80" y1="769.30" x2="218.80" y2="775.80" stroke="#000" stroke-width="2.5" stroke-linecap="round"/>
<text x="218.80" y="792.90" font-size="10.4" font-weight="bold" text-anchor="middle" >D4</text>
<line x1="243.30" y1="769.30" x2="243.30" y2="775.80" stroke="#000" stroke-width="2.5" stroke-linecap="round"/>
<text x="243.30" y="792.90" font-size="10.4" font-weight="bold" text-anchor="middle" >D5</text>
<line x1="267.80" y1="769.30" x2="267.80" y2="775.80" stroke="#000" stroke-width="2.5" stroke-linecap="round"/>
<text x="267.80" y="792.90" font-size="10.4" font-weight="bold" text-anchor="middle" >D6</text>
<line x1="292.30" y1="769.30" x2="292.30" y2="775.80" stroke="#000" stroke-width="2.5" stroke-linecap="round"/>
<text x="292.30" y="792.90" font-size="10.4" font-weight="bold" text-anchor="middle" >D7</text>
<line x1="341.30" y1="769.30" x2="341.30" y2="775.80" stroke="#000" stroke-width="2.5" stroke-linecap="round"/>
<text x="341.30" y="792.90" font-size="10.4" font-weight="bold" text-anchor="middle" >D14</text>
<path d="M71.80 769.90 L96.30 769.90 L120.80 618.12 L145.30 655.01 L169.80 688.71 L194.30 734.81 L218.80 746.64 L243.30 760.68 L267.80 765.00 L292.30 765.00 L341.30 769.90" fill="none" stroke="#000" stroke-width="1.8" stroke-linejoin="round"/>
<path d="M71.80 769.90 L96.30 769.90 L120.80 618.12 L145.30 649.95 L169.80 671.16 L194.30 706.25 L218.80 722.57 L243.30 760.92 L267.80 762.56 L292.30 762.56 L341.30 769.90" fill="none" stroke="#000" stroke-width="1.8" stroke-linejoin="round"/>
<path d="M71.80 769.90 L96.30 769.90 L120.80 754.64 L145.30 745.91 L169.80 755.78 L194.30 760.43 L218.80 760.43 L243.30 760.92 L267.80 760.92 L292.30 760.92 L341.30 769.90" fill="none" stroke="#000" stroke-width="1.8" stroke-linejoin="round"/>
<line x1="145.30" y1="745.91" x2="145.30" y2="749.51" stroke="#000" stroke-width="1.6" />
<line x1="140.50" y1="749.51" x2="150.10" y2="749.51" stroke="#000" stroke-width="1.8" />
<rect x="68.30" y="766.40" width="7.00" height="7.00" fill="none" stroke="#000" stroke-width="1.8"/>
<rect x="92.80" y="766.40" width="7.00" height="7.00" fill="none" stroke="#000" stroke-width="1.8"/>
<rect x="117.30" y="614.62" width="7.00" height="7.00" fill="none" stroke="#000" stroke-width="1.8"/>
<rect x="141.80" y="651.51" width="7.00" height="7.00" fill="none" stroke="#000" stroke-width="1.8"/>
<rect x="166.30" y="685.21" width="7.00" height="7.00" fill="none" stroke="#000" stroke-width="1.8"/>
<rect x="190.80" y="731.31" width="7.00" height="7.00" fill="none" stroke="#000" stroke-width="1.8"/>
<rect x="215.30" y="743.14" width="7.00" height="7.00" fill="none" stroke="#000" stroke-width="1.8"/>
<rect x="239.80" y="757.18" width="7.00" height="7.00" fill="none" stroke="#000" stroke-width="1.8"/>
<rect x="264.30" y="761.50" width="7.00" height="7.00" fill="none" stroke="#000" stroke-width="1.8"/>
<rect x="288.80" y="761.50" width="7.00" height="7.00" fill="none" stroke="#000" stroke-width="1.8"/>
<rect x="337.80" y="766.40" width="7.00" height="7.00" fill="none" stroke="#000" stroke-width="1.8"/>
<path d="M71.80 766.86 L75.30 773.75 L68.30 773.75 Z" fill="none" stroke="#000" stroke-width="1.8" stroke-linejoin="miter"/>
<path d="M96.30 766.86 L99.80 773.75 L92.80 773.75 Z" fill="none" stroke="#000" stroke-width="1.8" stroke-linejoin="miter"/>
<path d="M120.80 615.08 L124.30 621.97 L117.30 621.97 Z" fill="none" stroke="#000" stroke-width="1.8" stroke-linejoin="miter"/>
<path d="M145.30 646.90 L148.80 653.80 L141.80 653.80 Z" fill="none" stroke="#000" stroke-width="1.8" stroke-linejoin="miter"/>
<path d="M169.80 668.12 L173.30 675.01 L166.30 675.01 Z" fill="none" stroke="#000" stroke-width="1.8" stroke-linejoin="miter"/>
<path d="M194.30 703.21 L197.80 710.10 L190.80 710.10 Z" fill="none" stroke="#000" stroke-width="1.8" stroke-linejoin="miter"/>
<path d="M218.80 719.53 L222.30 726.42 L215.30 726.42 Z" fill="none" stroke="#000" stroke-width="1.8" stroke-linejoin="miter"/>
<path d="M243.30 757.88 L246.80 764.77 L239.80 764.77 Z" fill="none" stroke="#000" stroke-width="1.8" stroke-linejoin="miter"/>
<path d="M267.80 759.51 L271.30 766.41 L264.30 766.41 Z" fill="none" stroke="#000" stroke-width="1.8" stroke-linejoin="miter"/>
<path d="M292.30 759.51 L295.80 766.41 L288.80 766.41 Z" fill="none" stroke="#000" stroke-width="1.8" stroke-linejoin="miter"/>
<path d="M341.30 766.86 L344.80 773.75 L337.80 773.75 Z" fill="none" stroke="#000" stroke-width="1.8" stroke-linejoin="miter"/>
<circle cx="71.80" cy="769.90" r="3.50" fill="none" stroke="#000" stroke-width="1.8"/>
<circle cx="96.30" cy="769.90" r="3.50" fill="none" stroke="#000" stroke-width="1.8"/>
<circle cx="120.80" cy="754.64" r="3.50" fill="none" stroke="#000" stroke-width="1.8"/>
<circle cx="145.30" cy="745.91" r="3.50" fill="none" stroke="#000" stroke-width="1.8"/>
<circle cx="169.80" cy="755.78" r="3.50" fill="none" stroke="#000" stroke-width="1.8"/>
<circle cx="194.30" cy="760.43" r="3.50" fill="none" stroke="#000" stroke-width="1.8"/>
<circle cx="218.80" cy="760.43" r="3.50" fill="none" stroke="#000" stroke-width="1.8"/>
<circle cx="243.30" cy="760.92" r="3.50" fill="none" stroke="#000" stroke-width="1.8"/>
<circle cx="267.80" cy="760.92" r="3.50" fill="none" stroke="#000" stroke-width="1.8"/>
<circle cx="292.30" cy="760.92" r="3.50" fill="none" stroke="#000" stroke-width="1.8"/>
<circle cx="341.30" cy="769.90" r="3.50" fill="none" stroke="#000" stroke-width="1.8"/>
<rect x="67.30" y="765.10" width="9" height="9" rx="1.2" fill="#000"/>
<rect x="91.80" y="765.10" width="9" height="9" rx="1.2" fill="#000"/>
<rect x="336.80" y="765.10" width="9" height="9" rx="1.2" fill="#000"/>
<text x="3.70" y="572.90" font-size="19" font-weight="bold" text-anchor="start" >c</text>
<text x="97.20" y="569.80" font-size="13.4" text-anchor="middle" >PI</text>
<text x="96.50" y="584.90" font-size="13.4" text-anchor="middle" >+/-S</text>
<text x="96.90" y="599.70" font-size="13.4" text-anchor="middle" >+/- RA</text>
<line x1="99.70" y1="611.00" x2="99.70" y2="619.30" stroke="#000" stroke-width="2.6" />
<path d="M92.50 618.30 L106.90 618.30 L99.70 639.30 Z" fill="#000"/>
<text transform="translate(22.4,671.9) rotate(-90)" font-size="15.8" font-weight="bold" text-anchor="middle">Cumulativepain score</text>
<text x="206.20" y="810.00" font-size="15.7" font-weight="bold" text-anchor="middle" >Period of observation</text>
<text x="122.20" y="749.35" font-size="15.5" text-anchor="middle" >+</text>
<text x="145.70" y="739.05" font-size="15.5" text-anchor="middle" >+</text>
<text x="170.30" y="749.35" font-size="15.5" text-anchor="middle" >+</text>
<text x="195.00" y="753.65" font-size="15.5" text-anchor="middle" >+</text>
<text x="170.20" y="668.98" font-size="14" text-anchor="middle" >*</text>
<text x="194.90" y="702.08" font-size="14" text-anchor="middle" >*</text>
<text x="219.80" y="720.48" font-size="14" text-anchor="middle" >*</text>
<line x1="264.90" y1="597.90" x2="289.60" y2="597.90" stroke="#000" stroke-width="1.8" />
<rect x="273.90" y="594.60" width="6.60" height="6.60" fill="none" stroke="#000" stroke-width="1.8"/>
<text x="298.90" y="603.30" font-size="15.7" text-anchor="start" >C</text>
<line x1="264.90" y1="620.30" x2="289.60" y2="620.30" stroke="#000" stroke-width="1.8" />
<path d="M277.20 617.43 L280.50 623.93 L273.90 623.93 Z" fill="none" stroke="#000" stroke-width="1.8" stroke-linejoin="miter"/>
<text x="298.90" y="625.50" font-size="15.7" text-anchor="start" >S</text>
<line x1="264.90" y1="643.00" x2="289.60" y2="643.00" stroke="#000" stroke-width="1.8" />
<circle cx="277.20" cy="643.00" r="3.30" fill="none" stroke="#000" stroke-width="1.8"/>
<text x="298.90" y="648.10" font-size="15.7" text-anchor="start" >S + RA</text>
</svg>
</body></html>
